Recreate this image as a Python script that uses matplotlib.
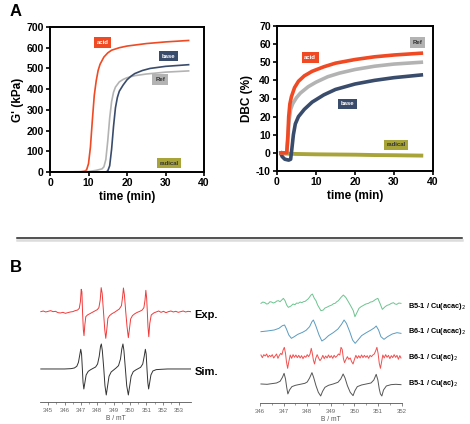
import numpy as np
import matplotlib
matplotlib.use("Agg")
import matplotlib.pyplot as plt
from matplotlib.lines import Line2D

plt.rcParams["font.family"] = ["Liberation Sans", "DejaVu Sans"]
plt.rcParams["axes.unicode_minus"] = False

# ---- Panel A left: storage modulus G' (kPa) vs time (min)
g_acid_t = [0, 8, 9, 9.5, 10, 10.5, 11, 11.5, 12, 12.5, 13, 14, 15, 16, 18, 20, 25, 30, 36]
g_acid_v = [0, 1, 4, 10, 40, 120, 250, 370, 440, 490, 520, 555, 575, 588, 600, 608, 620, 628, 635]
g_ref_t = [0, 10, 12, 13.5, 14, 14.5, 15, 15.5, 16, 16.5, 17, 18, 19, 20, 22, 25, 30, 36]
g_ref_v = [0, 2, 8, 15, 25, 60, 150, 260, 340, 385, 410, 435, 447, 455, 465, 473, 482, 488]
g_base_t = [0, 14.5, 15, 15.5, 16, 16.5, 17, 17.5, 18, 19, 20, 21, 22, 24, 26, 30, 36]
g_base_v = [0, 0, 5, 30, 110, 220, 310, 360, 390, 420, 445, 462, 475, 490, 500, 510, 518]
g_rad_t = [0, 36]
g_rad_v = [0, 0]

# ---- Panel A right: DBC (%) vs time (min)
d_acid_t = [1, 2.5, 2.8, 3.0, 3.3, 3.7, 4.5, 5.5, 7, 9, 12, 15, 20, 25, 30, 37]
d_acid_v = [0, 0, 10, 20, 27, 31, 36, 39.5, 42.5, 45, 47.5, 49.5, 51.5, 53, 54, 55]
d_ref_t = [1, 2.5, 2.8, 3.1, 3.5, 4, 5, 6, 8, 10, 13, 16, 20, 25, 30, 37]
d_ref_v = [0, 0, 8, 18, 24, 27, 30.5, 33, 36.5, 39, 42, 44, 46, 47.8, 49, 50]
d_base_t = [1, 1.3, 2, 3, 3.5, 3.8, 4.2, 4.7, 5.5, 7, 9, 12, 15, 20, 25, 30, 37]
d_base_v = [0, -2, -3.5, -4, -3.5, 2, 10, 16, 20, 24, 28, 32, 35, 38, 40, 41.5, 43]
d_rad_t = [1, 5, 10, 15, 20, 25, 30, 37]
d_rad_v = [-0.3, -0.6, -0.8, -0.9, -1.0, -1.2, -1.3, -1.5]

# ---- Panel B left: EPR spectra (B / mT, relative intensity)
exp_b = [344.55, 344.7, 344.85, 345.0, 345.15, 345.3, 345.45, 345.6, 345.75, 345.9, 346.05, 346.2,
         346.35, 346.5, 346.65, 346.8, 346.9, 346.97, 347.02, 347.06, 347.1, 347.15, 347.19, 347.24,
         347.3, 347.4, 347.55, 347.7, 347.85, 348.0, 348.1, 348.18, 348.24, 348.3, 348.38, 348.46,
         348.52, 348.58, 348.65, 348.75, 348.9, 349.05, 349.2, 349.35, 349.48, 349.55, 349.6, 349.66,
         349.74, 349.82, 349.9, 349.96, 350.04, 350.15, 350.3, 350.45, 350.6, 350.75, 350.85, 350.92,
         350.97, 351.02, 351.06, 351.1, 351.15, 351.21, 351.3, 351.45, 351.6, 351.75, 351.9, 352.05,
         352.2, 352.35, 352.5, 352.65, 352.8, 352.95, 353.1, 353.25, 353.4, 353.55, 353.7]
exp_v = [0, 2, -1, 1, 3, 0, 1, -3, -4, -2, -5, -3,
         -1, 0, 3, 5, 10, 30, 67, 60, 0, -55, -72, -40,
         -15, -10, -6, -2, 2, 6, 12, 35, 72, 55, 0, -55,
         -80, -55, -20, -12, -6, -2, 3, 8, 18, 45, 71, 50,
         0, -45, -78, -55, -22, -12, -6, -2, 1, 5, 12, 35,
         64, 40, 0, -45, -75, -35, -10, -4, -1, 2, -2, 1,
         -3, 0, 2, -1, 1, -2, 0, 2, -1, 1, 0]
sim_b = [344.55, 346.0, 346.4, 346.6, 346.75, 346.85, 346.93, 346.99, 347.04, 347.09, 347.13, 347.18,
         347.24, 347.32, 347.45, 347.6, 347.75, 347.9, 348.02, 348.12, 348.2, 348.25, 348.31, 348.4,
         348.47, 348.55, 348.62, 348.72, 348.85, 349.0, 349.15, 349.3, 349.42, 349.5, 349.57, 349.63,
         349.72, 349.8, 349.9, 349.97, 350.07, 350.2, 350.35, 350.5, 350.65, 350.78, 350.87, 350.94,
         350.99, 351.04, 351.09, 351.14, 351.2, 351.28, 351.4, 351.6, 351.9, 352.3, 353.7]
sim_v = [0, 0, 1, 3, 8, 20, 42, 59, 45, 0, -40, -60,
         -42, -18, -7, -2, 2, 6, 15, 38, 68, 75, 55, 0,
         -50, -78, -55, -22, -9, -3, 3, 10, 30, 60, 75, 55,
         0, -50, -78, -55, -22, -8, -3, 1, 5, 15, 38, 59,
         45, 0, -40, -60, -42, -18, -6, -2, -1, 0, 0]

# ---- Panel B right: EPR spectra of the four systems
grn_b = [346.04, 346.12, 346.21, 346.28, 346.35, 346.42, 346.49, 346.56, 346.64, 346.71, 346.78, 346.85,
         346.92, 346.99, 347.06, 347.13, 347.2, 347.31, 347.4, 347.48, 347.55, 347.62, 347.7, 347.77,
         347.84, 347.91, 347.98, 348.05, 348.16, 348.22, 348.3, 348.37, 348.44, 348.58, 348.68, 348.75,
         348.82, 348.93, 349.04, 349.11, 349.18, 349.25, 349.32, 349.43, 349.53, 349.63, 349.74, 349.86,
         349.95, 350.02, 350.09, 350.19, 350.28, 350.38, 350.48, 350.59, 350.68, 350.76, 350.9, 350.99,
         351.08, 351.18, 351.3, 351.38, 351.47, 351.56, 351.65, 351.72, 351.79, 351.88, 351.97]
grn_v = [0, 4, 2, -2, -1, 5, 4, 1, 3, 7, 8, 5,
         10, 15, 8, -5, -12, -8, -2, -4, 1, 0, 4, 2,
         5, 6, 10, 14, 25, 28, 15, 8, -5, -22, -20, -14,
         -12, -8, -5, -1, 0, 5, 8, 18, 25, 18, 5, -10,
         -22, -40, -30, -15, -10, -6, -2, 0, 4, 5, 12, 15,
         0, -18, -10, -6, -4, 0, 2, -2, -3, 1, 0]
blu_b = [346.04, 346.3, 346.6, 346.8, 346.95, 347.04, 347.12, 347.22, 347.33, 347.45, 347.6, 347.8,
         347.95, 348.1, 348.2, 348.26, 348.35, 348.5, 348.62, 348.75, 348.9, 349.1, 349.3, 349.45,
         349.56, 349.66, 349.8, 349.92, 350.03, 350.15, 350.3, 350.5, 350.7, 350.85, 350.92, 351.02,
         351.12, 351.25, 351.4, 351.6, 351.8, 351.97]
blu_v = [0, 2, 5, 10, 18, 20, 8, -10, -20, -15, -8, -2,
         4, 15, 30, 35, 20, -10, -28, -22, -12, -3, 8, 22,
         35, 25, 0, -25, -35, -25, -12, -3, 5, 12, 17, 5,
         -15, -23, -15, -7, -3, -5]
red_b = [346.04, 346.1, 346.16, 346.22, 346.28, 346.34, 346.4, 346.46, 346.52, 346.58, 346.64, 346.7,
         346.76, 346.82, 346.88, 346.93, 346.98, 347.03, 347.08, 347.12, 347.17, 347.22, 347.28, 347.34,
         347.4, 347.46, 347.52, 347.58, 347.64, 347.7, 347.76, 347.82, 347.88, 347.94, 348.0, 348.06,
         348.12, 348.17, 348.21, 348.26, 348.31, 348.36, 348.42, 348.48, 348.54, 348.6, 348.66, 348.72,
         348.78, 348.84, 348.9, 348.96, 349.02, 349.08, 349.14, 349.2, 349.26, 349.32, 349.38, 349.43,
         349.48, 349.53, 349.58, 349.64, 349.7, 349.76, 349.82, 349.88, 349.94, 350.0, 350.06, 350.12,
         350.18, 350.24, 350.3, 350.36, 350.42, 350.48, 350.54, 350.6, 350.66, 350.72, 350.78, 350.84,
         350.9, 350.95, 351.0, 351.05, 351.1, 351.15, 351.2, 351.26, 351.32, 351.38, 351.44, 351.5,
         351.56, 351.62, 351.68, 351.74, 351.8, 351.86, 351.92, 351.97]
red_v = [5, -3, 6, 2, 8, -2, 4, 0, 6, -4, 2, 8,
         -5, 4, 10, 6, 20, 28, 10, -15, -35, -15, 5, -5,
         6, -2, 5, -3, 4, -4, 3, -6, 2, -2, 6, 0,
         8, 25, 12, -10, -22, -5, 6, -4, -12, -6, 4, -6,
         2, -4, 5, -3, 3, -5, 4, -2, 2, 8, 5, 28,
         22, -5, -18, -8, 0, -8, -4, -15, -22, -8, 4, -5,
         3, -4, 5, -3, 4, -2, 3, -5, 4, 0, 5, 8,
         18, 28, 10, -20, -35, -15, 5, -4, 6, -2, 4, -6,
         3, -3, 6, -2, 4, -8, 3, -4]
gry_b = [346.04, 346.3, 346.5, 346.7, 346.85, 346.95, 347.02, 347.08, 347.13, 347.18, 347.25, 347.35,
         347.5, 347.7, 347.9, 348.0, 348.1, 348.2, 348.27, 348.37, 348.47, 348.57, 348.65, 348.75,
         348.9, 349.1, 349.3, 349.42, 349.52, 349.6, 349.7, 349.82, 349.94, 350.02, 350.12, 350.3,
         350.5, 350.7, 350.82, 350.92, 350.99, 351.05, 351.1, 351.16, 351.23, 351.35, 351.55, 351.75,
         351.97]
gry_v = [0, -1, 1, 3, 8, 20, 32, 15, -10, -30, -18, -8,
         -4, -1, 2, 6, 18, 34, 20, -5, -25, -36, -22, -10,
         -4, 0, 5, 15, 30, 18, -5, -25, -35, -20, -8, -3,
         0, 3, 12, 29, 12, -15, -30, -36, -18, -6, -2, -1,
         -2]

c_acid = "#ef4a23"
c_ref = "#b3b3b3"
c_base = "#3a4c6c"
c_rad = "#a9a43a"

W, H = 470, 424
fig = plt.figure(figsize=(W / 100, H / 100), dpi=100)


def px_axes(x0, y0, x1, y1):
    return fig.add_axes([x0 / W, 1 - y1 / H, (x1 - x0) / W, (y1 - y0) / H])


def tag(ax, x, y, s, fc, tc="white"):
    ax.text(x, y, s, fontsize=4.3, fontweight="bold", color=tc, ha="center", va="center",
            bbox=dict(boxstyle="square,pad=0.45", fc=fc, ec="none"))


def style_a(ax):
    for sp in ax.spines.values():
        sp.set_linewidth(1.4)
    ax.tick_params(direction="out", width=1.2, length=3, labelsize=7.5, pad=1.5)
    for lb in ax.get_xticklabels() + ax.get_yticklabels():
        lb.set_fontweight("bold")
    ax.set_xlabel("time (min)", fontsize=8.5, fontweight="bold", labelpad=2)


# A left
ax1 = px_axes(50, 27, 204, 172)
ax1.plot(g_rad_t, g_rad_v, color=c_rad, lw=2)
ax1.plot(g_acid_t, g_acid_v, color=c_acid, lw=1.2)
ax1.plot(g_ref_t, g_ref_v, color=c_ref, lw=1.2)
ax1.plot(g_base_t, g_base_v, color=c_base, lw=1.2)
ax1.set_xlim(0, 40)
ax1.set_ylim(0, 700)
ax1.set_xticks([0, 10, 20, 30, 40])
ax1.set_yticks(range(0, 701, 100))
ax1.set_ylabel("G' (kPa)", fontsize=8.5, fontweight="bold", labelpad=2)
style_a(ax1)
tag(ax1, 13.7, 625, "acid", c_acid)
tag(ax1, 30.7, 560, "base", c_base)
tag(ax1, 28.6, 446, "Ref", c_ref, "#333333")
tag(ax1, 30.9, 43, "radical", c_rad, "#333333")

# A right
ax2 = px_axes(277, 26, 433, 171)
ax2.plot(d_rad_t, d_rad_v, color=c_rad, lw=2.8)
ax2.plot(d_base_t, d_base_v, color=c_base, lw=2.6)
ax2.plot(d_ref_t, d_ref_v, color=c_ref, lw=2.6)
ax2.plot(d_acid_t, d_acid_v, color=c_acid, lw=2.6)
ax2.set_xlim(0, 40)
ax2.set_ylim(-10, 70)
ax2.set_xticks([0, 10, 20, 30, 40])
ax2.set_yticks(range(-10, 71, 10))
ax2.set_ylabel("DBC (%)", fontsize=8.5, fontweight="bold", labelpad=2)
style_a(ax2)
tag(ax2, 8.5, 52.7, "acid", c_acid)
tag(ax2, 36, 60.8, "Ref", c_ref, "#333333")
tag(ax2, 18, 27, "base", c_base)
tag(ax2, 30.5, 4.5, "radical", c_rad, "#333333")

fig.text(10 / W, 1 - 11 / H, "A", fontsize=12, fontweight="bold", ha="left", va="center")
fig.text(10 / W, 1 - 267 / H, "B", fontsize=12, fontweight="bold", ha="left", va="center")

# separator line with soft shadow
fig.add_artist(Line2D([17 / W, 462 / W], [1 - 240 / H] * 2, color="#dcdcdc", lw=1.8))
fig.add_artist(Line2D([17 / W, 462 / W], [1 - 238 / H] * 2, color="#222222", lw=1.1))


def style_b(ax, lo, hi):
    for k in ("top", "right", "left"):
        ax.spines[k].set_visible(False)
    ax.spines["bottom"].set_linewidth(0.6)
    ax.spines["bottom"].set_color("#555555")
    ax.set_yticks([])
    ax.set_xticks(range(lo, hi + 1))
    ax.set_xticks(np.arange(lo, hi + 0.5, 0.5), minor=True)
    ax.tick_params(axis="x", which="major", direction="out", length=2.5, width=0.5,
                   labelsize=4.3, labelcolor="#666666", color="#555555", pad=1.5)
    ax.tick_params(axis="x", which="minor", direction="out", length=1.5, width=0.4, color="#555555")
    ax.set_xlabel("B / mT", fontsize=4.8, color="#555555", labelpad=1.5)


# B left
ax3 = px_axes(40, 280, 191, 402.3)
ax3.plot(exp_b, np.array(exp_v) + 272, color="#f03a3a", lw=0.7)
ax3.plot(sim_b, np.array(sim_v) + 100, color="#333333", lw=0.7)
ax3.set_xlim(344.5, 353.73)
ax3.set_ylim(0, 367)
style_b(ax3, 345, 353)
ax3.text(353.95, 272 - 10, "Exp.", fontsize=8, fontweight="bold", ha="left", va="center", clip_on=False)
ax3.text(353.95, 100 - 10, "Sim.", fontsize=8, fontweight="bold", ha="left", va="center", clip_on=False)

# B right
ax4 = px_axes(260, 286.7, 401.7, 403.3)
ax4.plot(grn_b, np.array(grn_v) + 300, color="#6cc48f", lw=0.7)
ax4.plot(blu_b, np.array(blu_v) + 215, color="#5a9cc0", lw=0.7)
ax4.plot(red_b, np.array(red_v) + 140, color="#f05050", lw=0.7)
ax4.plot(gry_b, np.array(gry_v) + 58, color="#555555", lw=0.7)
ax4.set_xlim(346, 352)
ax4.set_ylim(0, 350)
style_b(ax4, 346, 352)
labels_b = ["B5-1 / Cu(acac)$_2$", "B6-1 / Cu(acac)$_2$", "B6-1 / Cu(ac)$_2$", "B5-1 / Cu(ac)$_2$"]
for lab, yy in zip(labels_b, [290, 215, 138, 60]):
    ax4.text(352.25, yy, lab, fontsize=5.3, fontweight="bold", ha="left", va="center", clip_on=False)

fig.savefig("out.png", dpi=100)
